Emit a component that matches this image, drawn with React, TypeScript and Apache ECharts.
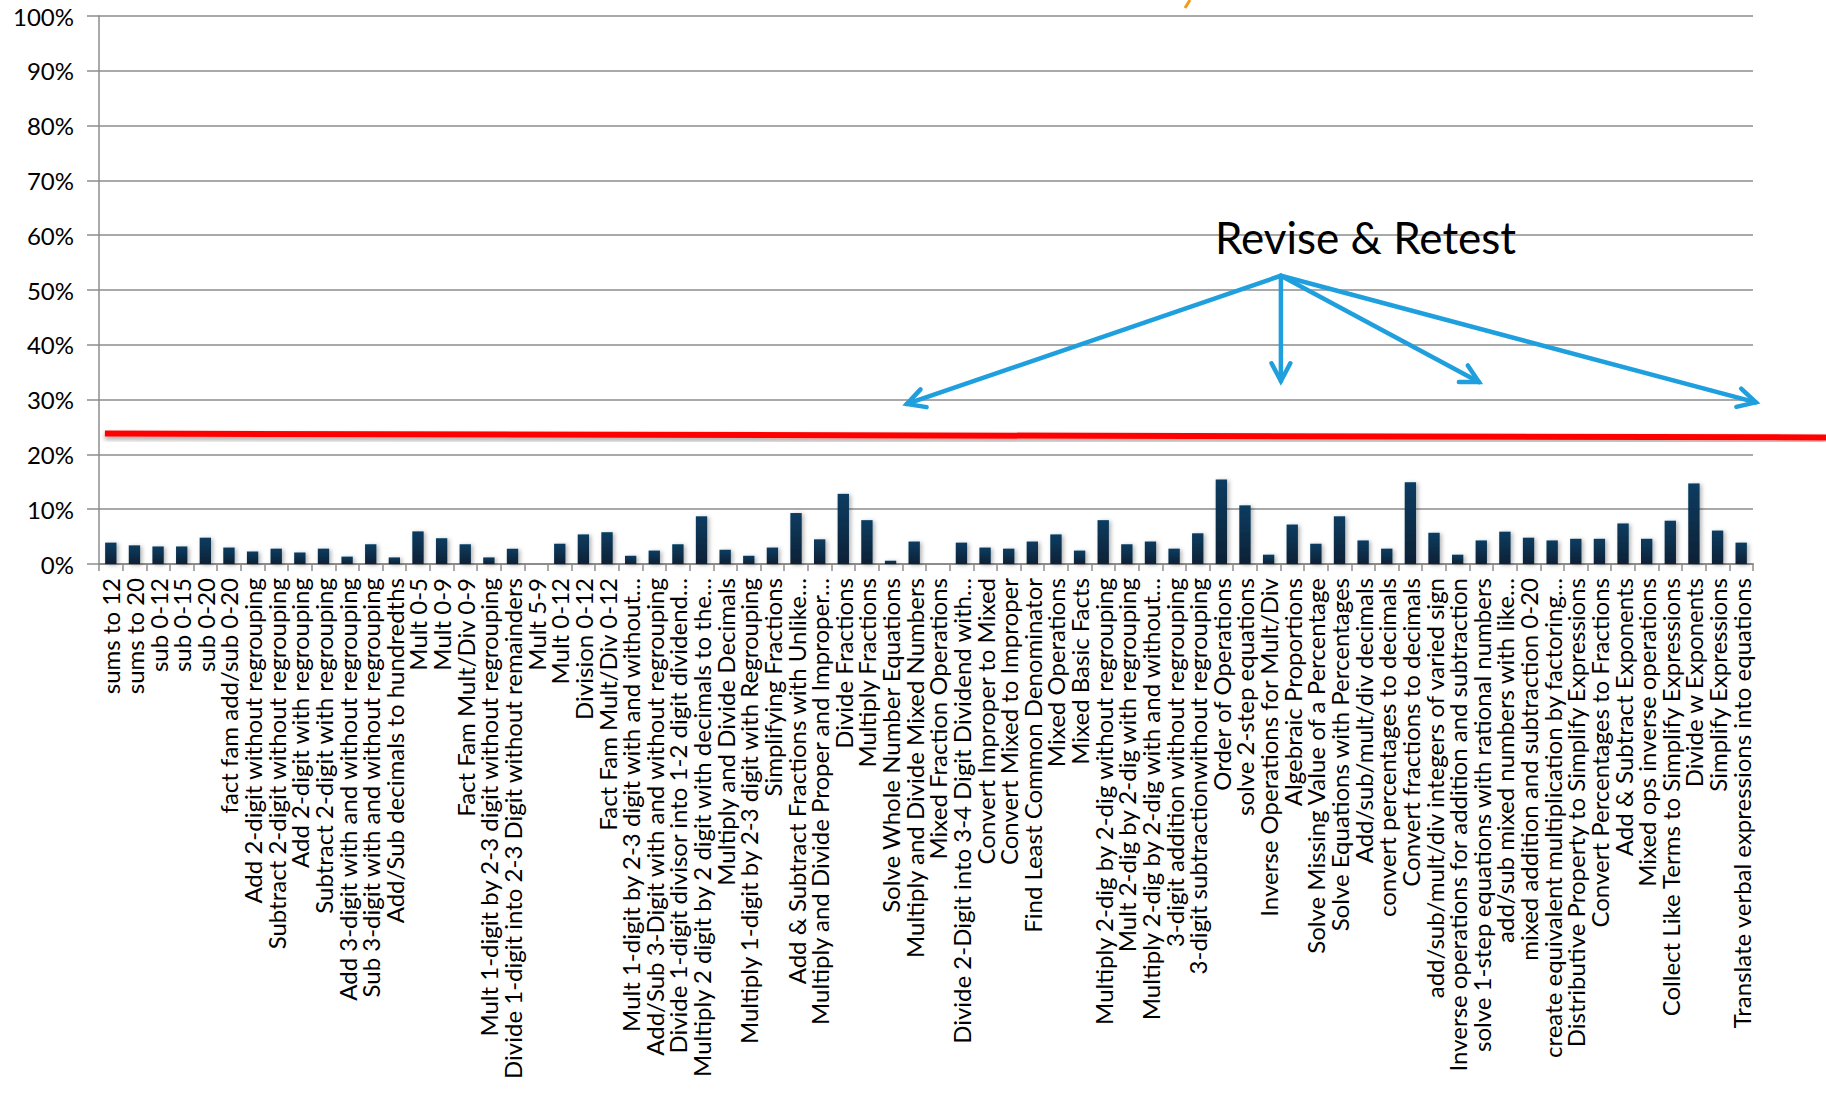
import React, { useEffect, useRef } from "react";
import * as echarts from "echarts";

const categories = [
  "sums to 12",
  "sums to 20",
  "sub 0-12",
  "sub 0-15",
  "sub 0-20",
  "fact fam add/sub 0-20",
  "Add 2-digit without regrouping",
  "Subtract 2-digit without regrouping",
  "Add 2-digit with regrouping",
  "Subtract 2-digit with regrouping",
  "Add 3-digit with and without regrouping",
  "Sub 3-digit with and without regrouping",
  "Add/Sub decimals to hundredths",
  "Mult 0-5",
  "Mult 0-9",
  "Fact Fam Mult/Div 0-9",
  "Mult 1-digit by 2-3 digit without regrouping",
  "Divide 1-digit into 2-3 Digit without remainders",
  "Mult 5-9",
  "Mult 0-12",
  "Division 0-12",
  "Fact Fam Mult/Div 0-12",
  "Mult 1-digit by 2-3 digit with and without…",
  "Add/Sub 3-Digit with and without regrouping",
  "Divide 1-digit divisor into 1-2 digit dividend…",
  "Multiply 2 digit by 2 digit with decimals to the…",
  "Multiply and Divide Decimals",
  "Multiply 1-digit by 2-3 digit with Regrouping",
  "Simplifying Fractions",
  "Add & Subtract Fractions with Unlike…",
  "Multiply and Divide Proper and Improper…",
  "Divide Fractions",
  "Multiply Fractions",
  "Solve Whole Number Equations",
  "Multiply and Divide Mixed Numbers",
  "Mixed Fraction Operations",
  "Divide 2-Digit into 3-4 Digit Dividend with…",
  "Convert Improper to Mixed",
  "Convert Mixed to Improper",
  "Find Least Common Denominator",
  "Mixed Operations",
  "Mixed Basic Facts",
  "Multiply 2-dig by 2-dig without regrouping",
  "Mult 2-dig by 2-dig with regrouping",
  "Multiply 2-dig by 2-dig with and without…",
  "3-digit addition without regrouping",
  "3-digit subtractionwithout regrouping",
  "Order of Operations",
  "solve 2-step equations",
  "Inverse Operations for Mult/Div",
  "Algebraic Proportions",
  "Solve Missing Value of a Percentage",
  "Solve Equations with Percentages",
  "Add/sub/mult/div decimals",
  "convert percentages to decimals",
  "Convert fractions to decimals",
  "add/sub/mult/div integers of varied sign",
  "Inverse operations for addition and subtraction",
  "solve 1-step equations with rational numbers",
  "add/sub mixed numbers with like…",
  "mixed addition and subtraction 0-20",
  "create equivalent multiplication by factoring…",
  "Distributive Property to Simplify Expressions",
  "Convert Percentages to Fractions",
  "Add & Subtract Exponents",
  "Mixed ops inverse operations",
  "Collect Like Terms to Simplify Expressions",
  "Divide w Exponents",
  "Simplify Expressions",
  "Translate verbal expressions into equations",
];

const scores = [
  3.9, 3.4, 3.2, 3.2, 4.8, 3.0, 2.3, 2.8, 2.1, 2.8,
  1.35, 3.6, 1.2, 5.95, 4.7, 3.6, 1.2, 2.8, 0, 3.7,
  5.4, 5.8, 1.5, 2.45, 3.6, 8.7, 2.6, 1.5, 3.0, 9.3,
  4.5, 12.8, 8.0, 0.6, 4.1, 0, 3.9, 3.0, 2.8, 4.1,
  5.4, 2.45, 8.0, 3.6, 4.1, 2.8, 5.6, 15.4, 10.7, 1.7,
  7.2, 3.7, 8.7, 4.3, 2.8, 14.9, 5.7, 1.7, 4.3, 5.9,
  4.8, 4.3, 4.6, 4.6, 7.4, 4.6, 7.9, 14.7, 6.1, 3.9,
];

const yTicks = [0, 10, 20, 30, 40, 50, 60, 70, 80, 90, 100];

// Annotation: red threshold line [category position, value]
const thresholdStart = [0.25, 23.8];
const thresholdEnd = [73.1, 23.1];

// Annotation: "Revise & Retest" callout (category position, value)
const calloutLabel = "Revise & Retest";
const calloutText = [53.6, 59.6];
const arrowOrigin = [50.02, 52.6];
const arrowTips = [
  [34.19, 29.2],
  [50.02, 33.4],
  [58.4, 33.2],
  [70.12, 29.5],
];

const FONT = "Lato, 'Open Sans', sans-serif";

export default function App() {
  const ref = useRef<HTMLDivElement>(null);

  useEffect(() => {
    if (!ref.current) return;
    const chart = echarts.init(ref.current, null, { renderer: "svg" });
    const option: any = {
      animation: false,
      backgroundColor: "#ffffff",
      grid: {
        left: 99,
        right: 73,
        top: 16,
        bottom: 531,
        containLabel: false,
        outerBoundsMode: "none",
      },
      xAxis: {
        type: "category",
        data: categories,
        boundaryGap: true,
        axisLine: { show: true, lineStyle: { color: "#8c8c8c", width: 2 } },
        axisTick: {
          show: true,
          interval: 0,
          alignWithLabel: false,
          length: 7,
          lineStyle: { color: "#8c8c8c", width: 1.5 },
        },
        axisLabel: {
          interval: 0,
          rotate: 90,
          fontSize: 24,
          fontFamily: FONT,
          color: "#000000",
          margin: 14,
        },
        splitLine: { show: false },
      },
      yAxis: {
        type: "value",
        min: 0,
        max: 100,
        interval: 10,
        axisLine: { show: true, lineStyle: { color: "#8c8c8c", width: 1.5 } },
        axisTick: { show: true, length: 12, lineStyle: { color: "#8c8c8c", width: 1.5 } },
        axisLabel: {
          formatter: (v: number) => (yTicks.includes(v) ? v + "%" : ""),
          fontSize: 24,
          fontFamily: FONT,
          color: "#000000",
          margin: 25,
        },
        splitLine: { show: true, lineStyle: { color: "#8c8c8c", width: 1.5 } },
      },
      series: [
        {
          type: "bar",
          data: scores,
          barWidth: "48%",
          itemStyle: {
            color: new echarts.graphic.LinearGradient(0, 0, 0, 1, [
              { offset: 0, color: "#073c61" },
              { offset: 1, color: "#0b2135" },
            ]),
            shadowColor: "rgba(0,0,0,0.3)",
            shadowBlur: 4,
            shadowOffsetX: 2,
            shadowOffsetY: 1,
          },
        },
      ],
    };
    chart.setOption(option);

    const n = categories.length;
    const c0 = chart.convertToPixel({ xAxisIndex: 0 }, 0) as number;
    const c1 = chart.convertToPixel({ xAxisIndex: 0 }, n - 1) as number;
    const band = (c1 - c0) / (n - 1);
    const px = (pos: number) => c0 + (pos - 0.5) * band;
    const py = (v: number) => chart.convertToPixel({ yAxisIndex: 0 }, v) as number;

    const blue = "#1f9fdd";
    const arrowEls: any[] = [];
    const ox = px(arrowOrigin[0]);
    const oy = py(arrowOrigin[1]);
    arrowTips.forEach((t) => {
      const tx = px(t[0]);
      const ty = py(t[1]);
      const ang = Math.atan2(ty - oy, tx - ox);
      const L = 20;
      const spread = (28 * Math.PI) / 180;
      const a1 = ang + Math.PI - spread;
      const a2 = ang + Math.PI + spread;
      arrowEls.push({
        type: "line",
        shape: { x1: ox, y1: oy, x2: tx, y2: ty },
        style: { stroke: blue, lineWidth: 4.5, lineCap: "round" },
        z: 10,
      });
      arrowEls.push({
        type: "polyline",
        shape: {
          points: [
            [tx + L * Math.cos(a1), ty + L * Math.sin(a1)],
            [tx, ty],
            [tx + L * Math.cos(a2), ty + L * Math.sin(a2)],
          ],
        },
        style: { stroke: blue, lineWidth: 4.5, fill: null, lineJoin: "miter", lineCap: "round" },
        z: 10,
      });
    });

    chart.setOption({
      graphic: [
        {
          type: "line",
          shape: {
            x1: px(thresholdStart[0]),
            y1: py(thresholdStart[1]),
            x2: px(thresholdEnd[0]),
            y2: py(thresholdEnd[1]),
          },
          style: {
            stroke: "#ff0000",
            lineWidth: 6,
            shadowColor: "rgba(0,0,0,0.35)",
            shadowBlur: 5,
            shadowOffsetY: 3,
          },
          z: 9,
        },
        ...arrowEls,
        {
          type: "text",
          x: px(calloutText[0]),
          y: py(calloutText[1]),
          style: {
            text: calloutLabel,
            fontSize: 44,
            fontFamily: FONT,
            fill: "#000000",
            align: "center",
            verticalAlign: "middle",
          },
          z: 11,
        },
        {
          type: "line",
          shape: { x1: 1190, y1: 0, x2: 1185, y2: 8 },
          style: { stroke: "#f39a1e", lineWidth: 3 },
          z: 11,
        },
      ],
    });

    return () => chart.dispose();
  }, []);

  return (
    <div
      ref={ref}
      style={{ position: "fixed", left: 0, top: 0, width: 1826, height: 1095 }}
    />
  );
}
